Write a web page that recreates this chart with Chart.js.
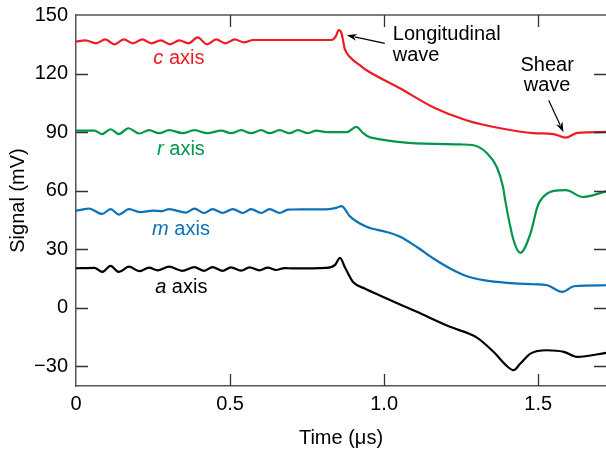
<!DOCTYPE html>
<html>
<head>
<meta charset="utf-8">
<script src="https://cdn.jsdelivr.net/npm/chart.js@4.4.1/dist/chart.umd.min.js"></script>
<style>
    html, body { margin: 0; padding: 0; background: #fff; }
    .chart-box { width: 606px; height: 450px; }
</style>
</head>
<body>
<div class="chart-box">
    <canvas id="myChart" width="606" height="450"></canvas>
</div>

<script>
// tick values
const timeTicks = [0, 0.5, 1.0, 1.5];
const signalTicks = [-30, 0, 30, 60, 90, 120, 150];

// c axis (red)
const cTime = [0, 0.03, 0.065, 0.095, 0.125, 0.155, 0.185, 0.215, 0.245, 0.275, 0.305, 0.335, 0.365, 0.395, 0.425, 0.455, 0.485, 0.515, 0.545, 0.575, 0.62, 0.83, 0.843, 0.853, 0.862, 0.872, 0.889, 0.921, 0.943, 1.051, 1.159, 1.269, 1.377, 1.484, 1.549, 1.589, 1.627, 1.72];
const cSignal = [136.3, 137, 135.5, 137.5, 135, 137.5, 135.5, 137.5, 135.5, 137, 135, 137, 135.5, 138.5, 135, 137.5, 135.5, 137.5, 136, 137.2, 137.2, 137.2, 139, 142.3, 140.5, 132.8, 128.5, 124.3, 121.7, 112.5, 102.8, 96, 92, 89.5, 89, 87.2, 89.6, 90.1];

// r axis (green)
const rTime = [0, 0.06, 0.085, 0.112, 0.139, 0.170, 0.205, 0.237, 0.270, 0.302, 0.346, 0.384, 0.427, 0.471, 0.503, 0.536, 0.568, 0.601, 0.628, 0.661, 0.693, 0.720, 0.753, 0.780, 0.813, 0.878, 0.910, 0.932, 0.954, 1.247, 1.29, 1.334, 1.366, 1.386, 1.393, 1.42, 1.442, 1.475, 1.497, 1.507, 1.55, 1.59, 1.645, 1.72];
const rSignal = [90.8, 90.8, 89, 91.5, 89, 92, 89.3, 91, 89.5, 91, 89.5, 91, 89.5, 90.8, 89.5, 91, 89.5, 91, 89.5, 91, 89.5, 91, 89.5, 90.8, 90, 90, 92.7, 89.5, 87.3, 83.7, 83.3, 79.2, 72, 61.8, 55, 34.7, 28.2, 38.2, 51.6, 55, 59.9, 60.3, 56.8, 59.7];

// m axis (blue)
const mTime = [0, 0.02, 0.042, 0.085, 0.112, 0.139, 0.172, 0.21, 0.25, 0.28, 0.302, 0.357, 0.384, 0.416, 0.443, 0.476, 0.509, 0.541, 0.568, 0.601, 0.628, 0.661, 0.688, 0.704, 0.813, 0.845, 0.862, 0.888, 0.943, 1.008, 1.052, 1.106, 1.16, 1.214, 1.269, 1.323, 1.399, 1.485, 1.529, 1.578, 1.616, 1.72];
const mSignal = [49.8, 50.3, 50.9, 48.1, 50.6, 47.8, 50.6, 49, 49.8, 49.6, 50.6, 48.8, 50.8, 48.6, 50.6, 48.6, 50.6, 48.6, 50.6, 48.6, 50.6, 48.6, 50.3, 50.4, 50.5, 51.2, 52.1, 47, 41.5, 38.9, 36.4, 31.2, 25.3, 20.2, 16.2, 14.2, 12.8, 12.1, 11.6, 8.2, 11.1, 11.6];

// a axis (black)
const aTime = [0, 0.06, 0.085, 0.112, 0.139, 0.172, 0.205, 0.237, 0.265, 0.302, 0.345, 0.384, 0.416, 0.443, 0.476, 0.503, 0.536, 0.563, 0.595, 0.622, 0.649, 0.677, 0.704, 0.813, 0.84, 0.857, 0.872, 0.885, 0.899, 0.937, 0.997, 1.106, 1.214, 1.301, 1.355, 1.399, 1.42, 1.442, 1.475, 1.529, 1.583, 1.627, 1.72];
const aSignal = [20.3, 20.5, 18.4, 21.5, 18.4, 21.1, 18.8, 20.6, 19.2, 21.1, 19, 20.9, 19, 20.9, 19, 20.8, 19.1, 20.8, 19.2, 20.6, 19.4, 20.4, 20.2, 20.5, 21.9, 25.6, 21, 17, 13.3, 9.9, 5.6, -2, -9.7, -15.2, -22.5, -29.9, -31.9, -28.5, -23.4, -21.7, -22.5, -25.1, -23];

const FONT = '"Liberation Sans", Arial, Helvetica, sans-serif';
const FSIZE = 20;

function toPoints(xs, ys) {
    return xs.map((x, i) => ({ x: x, y: ys[i] }));
}

function makeSet(label, xs, ys, color) {
    return {
        label: label,
        data: toPoints(xs, ys),
        borderColor: color,
        borderWidth: 2.2,
        pointRadius: 0,
        fill: false,
        cubicInterpolationMode: 'monotone'
    };
}

// 框線、內向刻度與文字標註
const decorPlugin = {
    id: 'decor',
    afterDraw(chart) {
        const ctx = chart.ctx;
        const xs = chart.scales.x;
        const ys = chart.scales.y;
        const area = chart.chartArea;
        const px = v => xs.getPixelForValue(v);
        const py = v => ys.getPixelForValue(v);

        ctx.save();
        // top frame line
        ctx.strokeStyle = '#555';
        ctx.lineWidth = 1.5;
        ctx.beginPath();
        ctx.moveTo(area.left, area.top);
        ctx.lineTo(area.right, area.top);
        ctx.stroke();

        // inward ticks
        ctx.strokeStyle = '#333';
        ctx.lineWidth = 1.3;
        const len = 12;
        timeTicks.forEach(v => {
            if (v === 0) return;
            const x = Math.round(px(v)) + 0.5;
            ctx.beginPath();
            ctx.moveTo(x, area.bottom);
            ctx.lineTo(x, area.bottom - len);
            ctx.moveTo(x, area.top);
            ctx.lineTo(x, area.top + len);
            ctx.stroke();
        });
        signalTicks.forEach(v => {
            if (v === 150) return;
            const y = Math.round(py(v)) + 0.5;
            ctx.beginPath();
            ctx.moveTo(area.left, y);
            ctx.lineTo(area.left + len, y);
            ctx.moveTo(area.right, y);
            ctx.lineTo(area.right - len, y);
            ctx.stroke();
        });

        // series labels: italic letter + " axis"
        const labels = [
            { letter: 'c', x: 0.251, y: 127.7, color: '#ed1c24' },
            { letter: 'r', x: 0.263, y: 81.1, color: '#00964b' },
            { letter: 'm', x: 0.247, y: 40.1, color: '#0b72b9' },
            { letter: 'a', x: 0.257, y: 10.4, color: '#000' }
        ];
        ctx.textBaseline = 'middle';
        ctx.textAlign = 'left';
        labels.forEach(l => {
            let x = px(l.x);
            const y = py(l.y);
            ctx.fillStyle = l.color;
            ctx.font = 'italic ' + FSIZE + 'px ' + FONT;
            ctx.fillText(l.letter, x, y);
            x += ctx.measureText(l.letter).width;
            ctx.font = FSIZE + 'px ' + FONT;
            ctx.fillText(' axis', x, y);
        });

        // annotations
        ctx.fillStyle = '#000';
        ctx.font = FSIZE + 'px ' + FONT;
        ctx.textAlign = 'left';
        ctx.fillText('Longitudinal', px(1.028), py(140.2));
        ctx.fillText('wave', px(1.028), py(129.4));
        ctx.textAlign = 'center';
        ctx.fillText('Shear', px(1.529), py(124.3));
        ctx.fillText('wave', px(1.529), py(114));

        drawArrow(ctx, px(1.002), py(135.5), px(0.879), py(139.6));
        drawArrow(ctx, px(1.534), py(106.4), px(1.582), py(90));
        ctx.restore();
    }
};

function drawArrow(ctx, x1, y1, x2, y2) {
    const ang = Math.atan2(y2 - y1, x2 - x1);
    const head = 10, wing = 3.5;
    ctx.strokeStyle = '#000';
    ctx.fillStyle = '#000';
    ctx.lineWidth = 1.2;
    ctx.beginPath();
    ctx.moveTo(x1, y1);
    ctx.lineTo(x2 - Math.cos(ang) * head * 0.8, y2 - Math.sin(ang) * head * 0.8);
    ctx.stroke();
    ctx.beginPath();
    ctx.moveTo(x2, y2);
    ctx.lineTo(x2 - Math.cos(ang) * head - Math.sin(ang) * wing, y2 - Math.sin(ang) * head + Math.cos(ang) * wing);
    ctx.lineTo(x2 - Math.cos(ang) * head * 0.7, y2 - Math.sin(ang) * head * 0.7);
    ctx.lineTo(x2 - Math.cos(ang) * head + Math.sin(ang) * wing, y2 - Math.sin(ang) * head - Math.cos(ang) * wing);
    ctx.closePath();
    ctx.fill();
}

const chartElement = document.getElementById('myChart');
const myChart = new Chart(chartElement, {
    type: 'line',
    data: {
        datasets: [
            makeSet('c axis', cTime, cSignal, '#ed1c24'),
            makeSet('r axis', rTime, rSignal, '#00964b'),
            makeSet('m axis', mTime, mSignal, '#0b72b9'),
            makeSet('a axis', aTime, aSignal, '#000000')
        ]
    },
    options: {
        responsive: false,
        animation: false,
        devicePixelRatio: 1,
        layout: { padding: { top: 15, right: 0, left: 0, bottom: 0 } },
        plugins: {
            legend: { display: false },
            tooltip: { enabled: false }
        },
        scales: {
            x: {
                type: 'linear',
                min: 0,
                max: 1.72,
                grid: { display: false, drawTicks: false },
                border: { display: true, color: '#555', width: 1.5 },
                afterBuildTicks: s => { s.ticks = timeTicks.map(v => ({ value: v })); },
                afterFit: s => { s.height = 64; s.paddingLeft = 0; s.paddingRight = 0; },
                ticks: {
                    padding: 6,
                    color: '#000',
                    font: { family: FONT, size: FSIZE },
                    maxRotation: 0,
                    callback: v => (v === 0 ? '0' : v.toFixed(1))
                },
                title: {
                    display: true,
                    text: 'Time (μs)',
                    color: '#000',
                    font: { family: FONT, size: FSIZE },
                    padding: { top: 0, bottom: 0 }
                }
            },
            y: {
                min: -40,
                max: 150,
                grid: { display: false, drawTicks: false },
                border: { display: true, color: '#555', width: 1.5 },
                afterBuildTicks: s => { s.ticks = signalTicks.map(v => ({ value: v })); },
                afterFit: s => { s.width = 76; s.paddingTop = 0; s.paddingBottom = 0; },
                ticks: {
                    padding: 8,
                    color: '#000',
                    font: { family: FONT, size: FSIZE },
                    callback: v => (v < 0 ? '\u2212' + Math.abs(v) : String(v))
                },
                title: {
                    display: true,
                    text: 'Signal (mV)',
                    color: '#000',
                    font: { family: FONT, size: FSIZE },
                    padding: { top: 6, bottom: 0 }
                }
            }
        }
    },
    plugins: [decorPlugin]
});
</script>
</body>
</html>
